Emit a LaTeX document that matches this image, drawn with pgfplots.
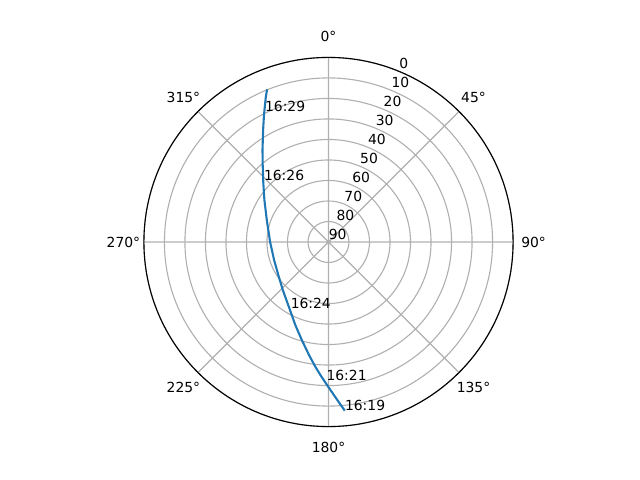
\documentclass[border=0pt]{standalone}
\usepackage{fontspec}
\setmainfont{DejaVu Sans}
\usepackage{pgfplots}
\usepackage{pgfplotstable}
\usepgfplotslibrary{polar}
\pgfplotsset{compat=1.18}

\definecolor{mplblue}{HTML}{1F77B4}
\definecolor{mplgrid}{HTML}{B0B0B0}

% satellite pass: azimuth (deg, clockwise from north), elevation (deg)
\pgfplotstableread{
az el
174.48 7.37
176.81 12.85
180.12 19.45
183.49 25.04
186.04 28.86
189.79 34.09
195.24 40.48
201.80 46.42
211.53 52.99
223.60 57.69
236.68 60.71
251.69 62.06
270.00 61.53
289.62 58.06
303.23 52.64
312.14 47.13
319.48 40.62
324.34 34.80
329.72 26.77
333.07 20.55
334.79 17.09
336.62 12.98
338.10 9.76
}\passdata

\pgfplotstableread{
az el lab
174.49 7.23 16:19
180.91 22.47 16:21
209.82 52.74 16:24
313.78 46.31 16:26
333.95 19.29 16:29
}\timelabels

\begin{document}
\begin{tikzpicture}[font=\fontsize{10bp}{12bp}\selectfont]
\begin{scope}[overlay]
\begin{polaraxis}[
  scale only axis, width=265.8bp, height=265.8bp,
  xmin=0, xmax=360, ymin=0, ymax=90,
  xtick={0,45,...,315},
  ytick={0,10,...,90},
  xticklabels={}, yticklabels={},
  major tick length=0pt,
  grid=major,
  major grid style={draw=mplgrid, line width=0.8bp},
  axis line style={black, line width=0.8bp},
  y axis line style={draw=none},
  clip=false,
]
% plot angle = 450 - azimuth, radius = 90 - elevation
\addplot[color=mplblue, line width=1.5bp, line join=round] table[x expr={450-\thisrow{az}}, y expr={90-\thisrow{el}}] {\passdata};
\addplot[only marks, mark=none, point meta=explicit symbolic, nodes near coords,
  every node near coord/.style={anchor=base west, inner sep=0pt, black}]
  table[x expr={450-\thisrow{az}}, y expr={90-\thisrow{el}}, meta=lab] {\timelabels};

\coordinate (c) at (axis cs:0,0);
% compass labels
\node at (axis cs:90,100) {0°};
\node at (axis cs:45,100) {45°};
\node at (axis cs:0,100) {90°};
\node at (axis cs:315,100) {135°};
\node at (axis cs:270,100) {180°};
\node at (axis cs:225,100) {225°};
\node at (axis cs:180,100) {270°};
\node at (axis cs:135,100) {315°};
% elevation labels
\node[anchor=base west, inner sep=0pt, yshift=1.8bp] at (axis cs:67.5,90) {0};
\node[anchor=base west, inner sep=0pt, yshift=1.8bp] at (axis cs:67.5,80) {10};
\node[anchor=base west, inner sep=0pt, yshift=1.8bp] at (axis cs:67.5,70) {20};
\node[anchor=base west, inner sep=0pt, yshift=1.8bp] at (axis cs:67.5,60) {30};
\node[anchor=base west, inner sep=0pt, yshift=1.8bp] at (axis cs:67.5,50) {40};
\node[anchor=base west, inner sep=0pt, yshift=1.8bp] at (axis cs:67.5,40) {50};
\node[anchor=base west, inner sep=0pt, yshift=1.8bp] at (axis cs:67.5,30) {60};
\node[anchor=base west, inner sep=0pt, yshift=1.8bp] at (axis cs:67.5,20) {70};
\node[anchor=base west, inner sep=0pt, yshift=1.8bp] at (axis cs:67.5,10) {80};
\node[anchor=base west, inner sep=0pt, yshift=1.8bp] at (axis cs:67.5,0) {90};
\end{polaraxis}
\end{scope}
\path (c) ++(-236.52bp,-171.36bp) rectangle ++(460.8bp,345.6bp);
\end{tikzpicture}
\end{document}
